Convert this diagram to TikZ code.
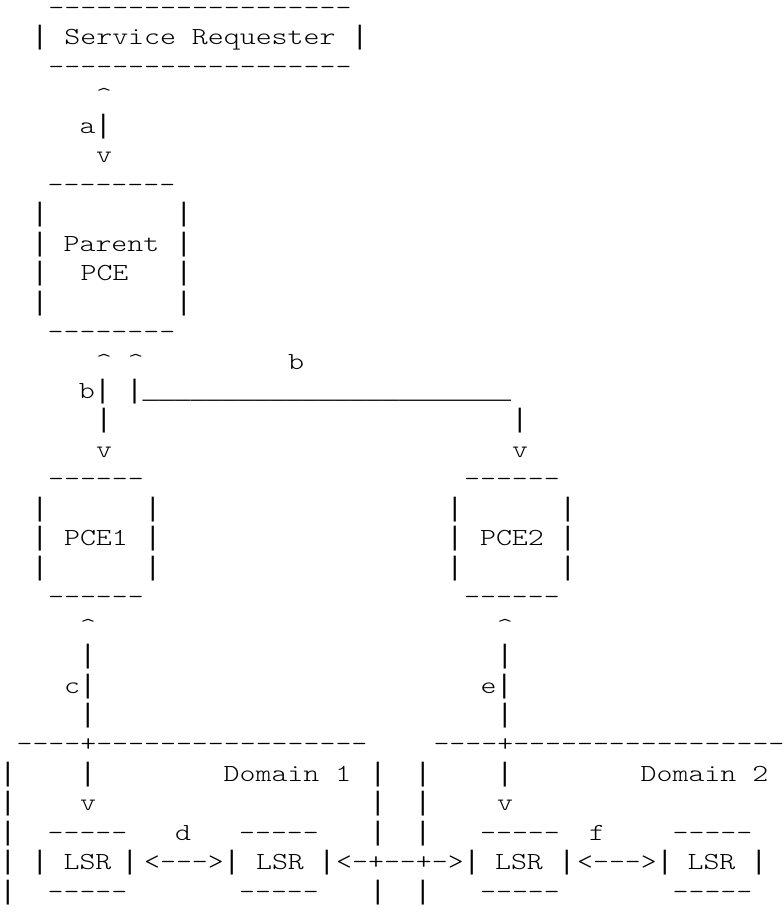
\documentclass[tikz,border=0pt]{standalone}
\usepackage{fontspec}
\setmonofont{lmmonolt10-regular.otf}[FakeStretch=1.24]
\newfontfamily\barfont{Liberation Mono}
\newcommand\asbar{{\barfont\fontsize{26.7}{30}\selectfont|}}
\newcommand\asunder{{\barfont\fontsize{26.7}{30}\selectfont\_}}
\tikzset{asc/.style={font=\ttfamily\fontsize{24.5}{30}\selectfont,inner sep=0pt,anchor=base}}

\begin{document}
\begin{tikzpicture}[x=1pt,y=-29.46pt]
\useasboundingbox (0,0.474) rectangle (784,31.602);
\draw (200,1) node(reqtop)[asc] {-------------------};
\draw (40,2) node(reqleft)[asc] {\asbar};
\draw (200,2) node(req)[asc] {Service Requester};
\draw (360,2) node(reqright)[asc] {\asbar};
\draw (200,3) node(reqbot)[asc] {-------------------};
\draw (104,4) node(aup)[asc] {\textasciicircum};
\draw (95.5,5) node(alink)[asc] {a\asbar};
\draw (104,6) node(adown)[asc] {v};
\draw (111.5,7) node(partop)[asc] {--------};
\draw (40,8) node(parl1)[asc] {\asbar};
\draw (184,8) node(parr1)[asc] {\asbar};
\draw (40,9) node(parl2)[asc] {\asbar};
\draw (111.5,9) node(parent)[asc] {Parent};
\draw (184,9) node(parr2)[asc] {\asbar};
\draw (40,10) node(parl3)[asc] {\asbar};
\draw (104.5,10) node(parpce)[asc] {PCE};
\draw (184,10) node(parr3)[asc] {\asbar};
\draw (40,11) node(parl4)[asc] {\asbar};
\draw (184,11) node(parr4)[asc] {\asbar};
\draw (111.5,12) node(parbot)[asc] {--------};
\draw (120,13) node(bups)[asc] {\textasciicircum{} \textasciicircum};
\draw (296,13) node(blabel)[asc] {b};
\draw (295,14) node(blink)[asc] {b\asbar{} \asbar\asunder\asunder\asunder\asunder\asunder\asunder\asunder\asunder\asunder\asunder\asunder\asunder\asunder\asunder\asunder\asunder\asunder\asunder\asunder\asunder\asunder\asunder\asunder};
\draw (104,15) node(bbarone)[asc] {\asbar};
\draw (520,15) node(bbartwo)[asc] {\asbar};
\draw (104,16) node(bdownone)[asc] {v};
\draw (520,16) node(bdowntwo)[asc] {v};
\draw (96,17) node(ponetop)[asc] {------};
\draw (512,17) node(ptwotop)[asc] {------};
\draw (40,18) node(ponel1)[asc] {\asbar};
\draw (153,18) node(poner1)[asc] {\asbar};
\draw (455,18) node(ptwol1)[asc] {\asbar};
\draw (568,18) node(ptwor1)[asc] {\asbar};
\draw (40,19) node(ponel2)[asc] {\asbar};
\draw (96,19) node(pceone)[asc] {PCE1};
\draw (153,19) node(poner2)[asc] {\asbar};
\draw (455,19) node(ptwol2)[asc] {\asbar};
\draw (512,19) node(pcetwo)[asc] {PCE2};
\draw (568,19) node(ptwor2)[asc] {\asbar};
\draw (40,20) node(ponel3)[asc] {\asbar};
\draw (153,20) node(poner3)[asc] {\asbar};
\draw (455,20) node(ptwol3)[asc] {\asbar};
\draw (568,20) node(ptwor3)[asc] {\asbar};
\draw (96,21) node(ponebot)[asc] {------};
\draw (512,21) node(ptwobot)[asc] {------};
\draw (88,22) node(cup)[asc] {\textasciicircum};
\draw (505,22) node(eup)[asc] {\textasciicircum};
\draw (88,23) node(cbar1)[asc] {\asbar};
\draw (505,23) node(ebar1)[asc] {\asbar};
\draw (80,24) node(clink)[asc] {c\asbar};
\draw (496.5,24) node(elink)[asc] {e\asbar};
\draw (88,25) node(cbar2)[asc] {\asbar};
\draw (505,25) node(ebar2)[asc] {\asbar};
\draw (192,26) node(domonetop)[asc] {----+-----------------};
\draw (609,26) node(domtwotop)[asc] {----+-----------------};
\draw (8,27) node(domonel1)[asc] {\asbar};
\draw (88,27) node(cbar3)[asc] {\asbar};
\draw (287.5,27) node(domone)[asc] {Domain 1};
\draw (378,27) node(domoner1)[asc] {\asbar};
\draw (423,27) node(domtwol1)[asc] {\asbar};
\draw (505,27) node(ebar3)[asc] {\asbar};
\draw (704.5,27) node(domtwo)[asc] {Domain 2};
\draw (8,28) node(domonel2)[asc] {\asbar};
\draw (88,28) node(cdown)[asc] {v};
\draw (378,28) node(domoner2)[asc] {\asbar};
\draw (423,28) node(domtwol2)[asc] {\asbar};
\draw (505,28) node(edown)[asc] {v};
\draw (8,29) node(domonel3)[asc] {\asbar};
\draw (87.5,29) node(lsratop)[asc] {-----};
\draw (183,29) node(dlabel)[asc] {d};
\draw (279,29) node(lsrbtop)[asc] {-----};
\draw (378,29) node(domoner3)[asc] {\asbar};
\draw (423,29) node(domtwol3)[asc] {\asbar};
\draw (520,29) node(lsrctop)[asc] {-----};
\draw (597,29) node(flabel)[asc] {f};
\draw (712.5,29) node(lsrdtop)[asc] {-----};
\draw (8,30) node(domonel4)[asc] {\asbar};
\draw (40,30) node(lsraleft)[asc] {\asbar};
\draw (87.5,30) node(lsra)[asc] {LSR};
\draw (130,30) node(lsraright)[asc] {\asbar};
\draw (184,30) node(dlink)[asc] {<--->};
\draw (232,30) node(lsrbleft)[asc] {\asbar};
\draw (280,30) node(lsrb)[asc] {LSR};
\draw (327,30) node(lsrbright)[asc] {\asbar};
\draw (400,30) node(xlink)[asc] {<-+--+->};
\draw (472,30) node(lsrcleft)[asc] {\asbar};
\draw (519,30) node(lsrc)[asc] {LSR};
\draw (567,30) node(lsrcright)[asc] {\asbar};
\draw (617,30) node(flink)[asc] {<--->};
\draw (665,30) node(lsrdleft)[asc] {\asbar};
\draw (711.5,30) node(lsrd)[asc] {LSR};
\draw (759,30) node(lsrdright)[asc] {\asbar};
\draw (8,31) node(domonel5)[asc] {\asbar};
\draw (87.5,31) node(lsrabot)[asc] {-----};
\draw (279,31) node(lsrbbot)[asc] {-----};
\draw (378,31) node(domoner5)[asc] {\asbar};
\draw (423,31) node(domtwol5)[asc] {\asbar};
\draw (520,31) node(lsrcbot)[asc] {-----};
\draw (712.5,31) node(lsrdbot)[asc] {-----};
\end{tikzpicture}
\end{document}
